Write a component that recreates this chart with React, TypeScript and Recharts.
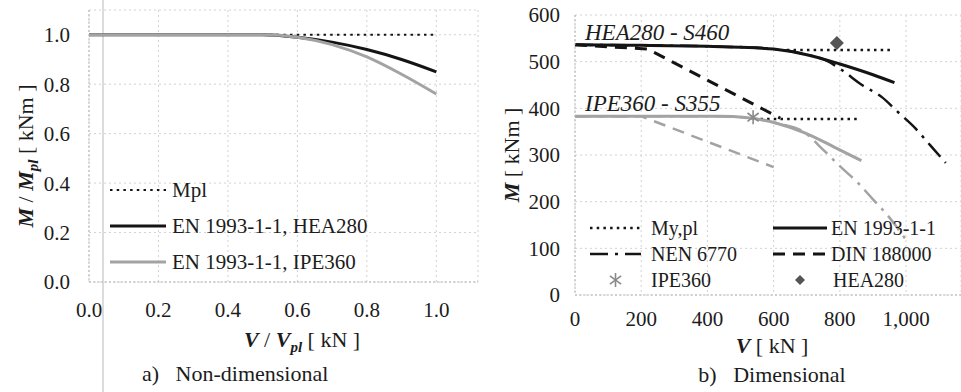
import React from 'react';
import { ComposedChart, Line, Scatter, XAxis, YAxis, CartesianGrid } from 'recharts';

// a) non-dimensional
const ratioV = [0, 0.1, 0.2, 0.3, 0.4, 0.5, 0.6, 0.7, 0.8, 0.9, 1.0];
const ratioMpl = [1, 1, 1, 1, 1, 1, 1, 1, 1, 1, 1];
const ratioHEA280 = [1, 1, 1, 1, 1, 1, 0.99, 0.97, 0.94, 0.9, 0.85];
const ratioIPE360 = [1, 1, 1, 1, 1, 1, 0.99, 0.96, 0.91, 0.84, 0.76];
const ratioTicks = [0, 0.2, 0.4, 0.6, 0.8, 1.0];

// b) dimensional, V [kN] / M [kNm]
const heaEnV = [0, 200, 400, 500, 600, 700, 800, 900, 965];
const heaEnM = [536, 535, 533, 531, 527, 515, 495, 472, 455];
const heaMplV = [640, 960];
const heaMplM = [525, 525];
const heaNenV = [0, 400, 600, 700, 760, 806, 867, 927, 977, 1027, 1074, 1120];
const heaNenM = [536, 533, 527, 515, 502, 482, 450, 424, 391, 358, 320, 283];
const heaDinV = [0, 220, 420, 620];
const heaDinM = [536, 527, 453, 379];
const heaTestV = [791];
const heaTestM = [540];

const ipeEnV = [0, 435, 522, 609, 696, 783, 865];
const ipeEnM = [383, 383, 380, 368, 347, 317, 288];
const ipeMplV = [560, 860];
const ipeMplM = [377, 377];
const ipeNenV = [0, 435, 522, 609, 690, 750, 800, 855, 900, 945, 1000];
const ipeNenM = [383, 383, 380, 368, 350, 311, 276, 240, 205, 170, 118];
const ipeDinV = [0, 200, 600];
const ipeDinM = [383, 383, 274];
const ipeTestV = [538];
const ipeTestM = [381];

const vTicks = [0, 200, 400, 600, 800, 1000];
const mTicks = [0, 100, 200, 300, 400, 500, 600];

const zip = (xs: number[], ys: number[]) => xs.map((V, i) => ({ V, M: ys[i] }));

const ratioData = ratioV.map((v, i) => ({
  v,
  mpl: ratioMpl[i],
  hea: ratioHEA280[i],
  ipe: ratioIPE360[i],
}));

const BLACK = '#141414';
const GREY = '#a3a3a3';
const FONT = 'Liberation Serif';
const tickStyle = { fill: '#1c1c1c', fontSize: 21, fontFamily: FONT };

const DOT = '2.5 4.2';
const DASH = '12 8';
const DASHDOT = '18 7 3 7';

const Asterisk = (props: any) => {
  const { cx, cy } = props;
  const r = 7;
  return (
    <g stroke="#8a8a8a" strokeWidth={1.6}>
      <line x1={cx} y1={cy - r} x2={cx} y2={cy + r} />
      <line x1={cx - r * 0.8} y1={cy - r * 0.6} x2={cx + r * 0.8} y2={cy + r * 0.6} />
      <line x1={cx - r * 0.8} y1={cy + r * 0.6} x2={cx + r * 0.8} y2={cy - r * 0.6} />
    </g>
  );
};

const Diamond = (props: any) => {
  const { cx, cy, r = 7 } = props;
  return <polygon points={`${cx},${cy - r} ${cx + r},${cy} ${cx},${cy + r} ${cx - r},${cy}`} fill="#555" />;
};

type Item = { text: string; stroke?: string; dash?: string; width?: number; marker?: 'star' | 'diamond' };

const LegendRow = ({ x, y, w, gap, item, size }: { x: number; y: number; w: number; gap: number; item: Item; size: number }) => (
  <div style={{ position: 'absolute', left: x, top: y - 13, height: 26, display: 'flex', alignItems: 'center', whiteSpace: 'nowrap' }}>
    <svg width={w} height={26} style={{ marginRight: gap }}>
      {item.marker === 'star' && <Asterisk cx={w / 2} cy={13} />}
      {item.marker === 'diamond' && <Diamond cx={w / 2} cy={13} r={5} />}
      {!item.marker && (
        <line x1={0} y1={13} x2={w} y2={13} stroke={item.stroke} strokeWidth={item.width} strokeDasharray={item.dash} />
      )}
    </svg>
    <span style={{ fontSize: size, color: '#1c1c1c' }}>{item.text}</span>
  </div>
);

const abs = (left: number, top: number, extra: React.CSSProperties = {}): React.CSSProperties => ({
  position: 'absolute',
  left,
  top,
  whiteSpace: 'nowrap',
  color: '#1c1c1c',
  lineHeight: 1,
  ...extra,
});

export default function App() {
  return (
    <div style={{ position: 'absolute', left: 0, top: 0, width: 961, height: 392, background: '#fff', fontFamily: FONT, overflow: 'hidden' }}>
      {/* scan fold */}
      <div style={{ position: 'absolute', left: 102, top: 0, width: 2, height: 392, background: '#dcdcdc' }} />

      <div style={{ position: 'absolute', left: 0, top: 0 }}>
        <ComposedChart width={480} height={392} data={ratioData} margin={{ top: 10, right: 2, bottom: 80, left: 0 }}>
          <CartesianGrid stroke="#d2d2d2" strokeDasharray="2 3" />
          <XAxis
            dataKey="v"
            type="number"
            domain={[0, 1.12]}
            ticks={ratioTicks}
            tickFormatter={(t: number) => t.toFixed(1)}
            tick={tickStyle}
            tickSize={0}
            tickMargin={20}
            height={30}
            axisLine={{ stroke: '#b5b5b5', strokeDasharray: '2 2' }}
          />
          <YAxis
            type="number"
            domain={[0, 1.1]}
            ticks={ratioTicks}
            tickFormatter={(t: number) => t.toFixed(1)}
            tick={tickStyle}
            tickSize={0}
            tickMargin={19}
            width={89}
            axisLine={{ stroke: '#b5b5b5', strokeDasharray: '2 2' }}
          />
          <Line dataKey="mpl" stroke={BLACK} strokeWidth={2.2} strokeDasharray={DOT} dot={false} isAnimationActive={false} />
          <Line dataKey="hea" type="monotone" stroke={BLACK} strokeWidth={3} dot={false} isAnimationActive={false} />
          <Line dataKey="ipe" type="monotone" stroke={GREY} strokeWidth={3} dot={false} isAnimationActive={false} />
        </ComposedChart>
      </div>

      <div style={{ position: 'absolute', left: 480, top: 0 }}>
        <ComposedChart width={481} height={392} margin={{ top: 15, right: 0, bottom: 67, left: 0 }}>
          <CartesianGrid stroke="#d2d2d2" strokeDasharray="2 3" />
          <XAxis
            dataKey="V"
            type="number"
            domain={[0, 1166]}
            ticks={vTicks}
            tickFormatter={(t: number) => t.toLocaleString('en-US')}
            tick={tickStyle}
            tickSize={0}
            tickMargin={16}
            height={30}
            allowDataOverflow
            axisLine={{ stroke: '#b5b5b5', strokeDasharray: '2 2' }}
          />
          <YAxis
            dataKey="M"
            type="number"
            domain={[0, 600]}
            ticks={mTicks}
            tick={tickStyle}
            tickSize={0}
            tickMargin={15}
            width={95}
            axisLine={{ stroke: '#b5b5b5', strokeDasharray: '2 2' }}
          />
          <Line data={zip(ipeNenV, ipeNenM)} dataKey="M" type="monotone" stroke={GREY} strokeWidth={2.5} strokeDasharray={DASHDOT} dot={false} isAnimationActive={false} />
          <Line data={zip(ipeDinV, ipeDinM)} dataKey="M" type="linear" stroke={GREY} strokeWidth={2.5} strokeDasharray={DASH} dot={false} isAnimationActive={false} />
          <Line data={zip(ipeMplV, ipeMplM)} dataKey="M" stroke={BLACK} strokeWidth={2.5} strokeDasharray={DOT} dot={false} isAnimationActive={false} />
          <Line data={zip(ipeEnV, ipeEnM)} dataKey="M" type="monotone" stroke={GREY} strokeWidth={3} dot={false} isAnimationActive={false} />
          <Line data={zip(heaNenV, heaNenM)} dataKey="M" type="monotone" stroke={BLACK} strokeWidth={2.5} strokeDasharray={DASHDOT} dot={false} isAnimationActive={false} />
          <Line data={zip(heaDinV, heaDinM)} dataKey="M" type="linear" stroke={BLACK} strokeWidth={3} strokeDasharray={DASH} dot={false} isAnimationActive={false} />
          <Line data={zip(heaMplV, heaMplM)} dataKey="M" stroke={BLACK} strokeWidth={2.5} strokeDasharray={DOT} dot={false} isAnimationActive={false} />
          <Line data={zip(heaEnV, heaEnM)} dataKey="M" type="monotone" stroke={BLACK} strokeWidth={3} dot={false} isAnimationActive={false} />
          <Scatter data={zip(ipeTestV, ipeTestM)} dataKey="M" shape={Asterisk} isAnimationActive={false} />
          <Scatter data={zip(heaTestV, heaTestM)} dataKey="M" shape={Diamond} isAnimationActive={false} />
        </ComposedChart>
      </div>

      {/* legends */}
      <LegendRow x={110} y={190} w={56} gap={6} size={21} item={{ text: 'Mpl', stroke: BLACK, dash: DOT, width: 2.2 }} />
      <LegendRow x={110} y={226} w={56} gap={6} size={21} item={{ text: 'EN 1993-1-1, HEA280', stroke: BLACK, width: 3 }} />
      <LegendRow x={110} y={262} w={56} gap={6} size={21} item={{ text: 'EN 1993-1-1, IPE360', stroke: GREY, width: 3 }} />

      <LegendRow x={590} y={228} w={51} gap={10} size={20} item={{ text: 'My,pl', stroke: BLACK, dash: DOT, width: 2.5 }} />
      <LegendRow x={590} y={254} w={51} gap={10} size={20} item={{ text: 'NEN 6770', stroke: BLACK, dash: DASHDOT, width: 2.5 }} />
      <LegendRow x={590} y={280} w={51} gap={10} size={20} item={{ text: 'IPE360', marker: 'star' }} />
      <LegendRow x={773} y={228} w={54} gap={4} size={20} item={{ text: 'EN 1993-1-1', stroke: BLACK, width: 3 }} />
      <LegendRow x={773} y={254} w={54} gap={4} size={20} item={{ text: 'DIN 188000', stroke: BLACK, dash: DASH, width: 3 }} />
      <LegendRow x={773} y={280} w={54} gap={6} size={20} item={{ text: 'HEA280', marker: 'diamond' }} />

      {/* in-plot labels */}
      <div style={abs(585, 21, { fontSize: 23, fontStyle: 'italic' })}>HEA280 - S460</div>
      <div style={abs(585, 92, { fontSize: 23, fontStyle: 'italic' })}>IPE360 - S355</div>

      {/* axis titles */}
      <div style={abs(28, 156, { fontSize: 22, transform: 'translate(-50%, -50%) rotate(-90deg)' })}>
        <b><i>M</i></b> / <b><i>M<sub style={{ fontSize: 15 }}>pl</sub></i></b> [ kNm ]
      </div>
      <div style={abs(302, 342, { fontSize: 22, transform: 'translate(-50%, -50%)' })}>
        <b><i>V</i></b> / <b><i>V<sub style={{ fontSize: 15 }}>pl</sub></i></b> [ kN ]
      </div>
      <div style={abs(512, 155, { fontSize: 22, transform: 'translate(-50%, -50%) rotate(-90deg)' })}>
        <b><i>M</i></b> [ kNm ]
      </div>
      <div style={abs(772, 346, { fontSize: 22, transform: 'translate(-50%, -50%)' })}>
        <b><i>V</i></b> [ kN ]
      </div>

      {/* captions */}
      <div style={abs(142, 374, { fontSize: 22, transform: 'translateY(-50%)' })}>a)&nbsp;&nbsp;&nbsp;Non-dimensional</div>
      <div style={abs(772, 375, { fontSize: 22, transform: 'translate(-50%, -50%)' })}>b)&nbsp;&nbsp;&nbsp;Dimensional</div>
    </div>
  );
}
